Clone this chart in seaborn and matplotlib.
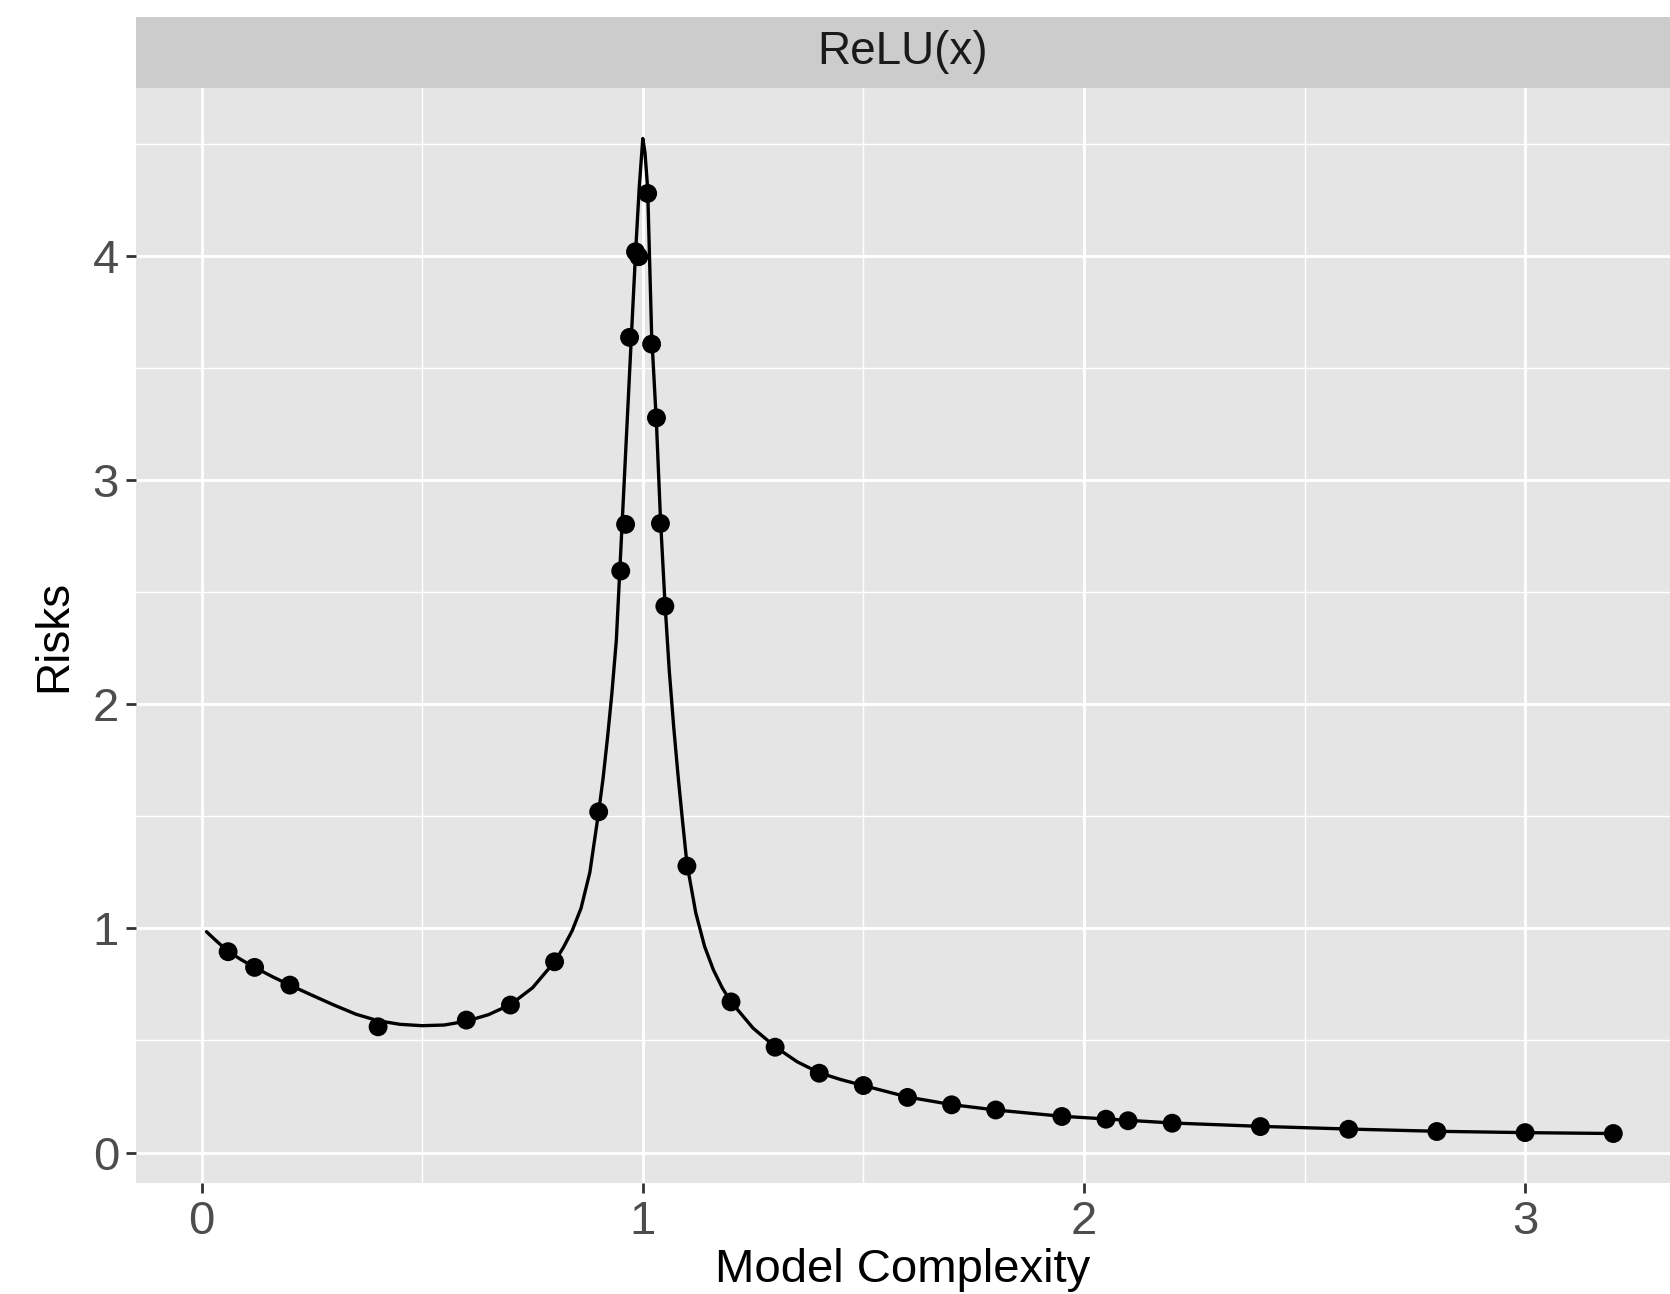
import matplotlib
matplotlib.use("Agg")
import matplotlib.pyplot as plt
import seaborn as sns
import pandas as pd

# ---- data ----
curve_x = [0.011, 0.03, 0.06, 0.09, 0.12, 0.16, 0.20, 0.25, 0.30, 0.35, 0.40, 0.45, 0.50,
           0.55, 0.60, 0.65, 0.70, 0.75, 0.80, 0.82, 0.84, 0.86, 0.88, 0.90, 0.91, 0.92,
           0.93, 0.94, 0.953, 0.965, 0.974, 0.9835, 0.992, 1.000, 1.005, 1.011, 1.020,
           1.031, 1.040, 1.050, 1.060, 1.070, 1.080, 1.090, 1.10, 1.12, 1.14, 1.16, 1.18,
           1.20, 1.25, 1.30, 1.35, 1.40, 1.45, 1.50, 1.60, 1.70, 1.80, 1.95, 2.10, 2.20,
           2.40, 2.60, 2.80, 3.00, 3.20]
curve_y = [0.985, 0.950, 0.897, 0.860, 0.826, 0.785, 0.747, 0.702, 0.658, 0.617, 0.588, 0.572, 0.566,
           0.569, 0.586, 0.615, 0.660, 0.735, 0.851, 0.915, 0.990, 1.09, 1.25, 1.52, 1.67, 1.85,
           2.05, 2.285, 2.80, 3.277, 3.636, 4.01, 4.307, 4.523, 4.46, 4.30, 3.65,
           3.25, 2.83, 2.46, 2.15, 1.90, 1.68, 1.48, 1.29, 1.07, 0.92, 0.815, 0.735,
           0.672, 0.555, 0.472, 0.405, 0.356, 0.325, 0.299, 0.248, 0.214, 0.190, 0.162, 0.144, 0.132,
           0.117, 0.105, 0.095, 0.089, 0.085]

point_x = [0.06, 0.12, 0.20, 0.40, 0.60, 0.70, 0.80, 0.90, 0.950, 0.961, 0.970, 0.9835,
           0.991, 1.011, 1.020, 1.031, 1.040, 1.050, 1.10, 1.20, 1.30, 1.40, 1.50, 1.60,
           1.70, 1.80, 1.95, 2.05, 2.10, 2.20, 2.40, 2.60, 2.80, 3.00, 3.20]
point_y = [0.896, 0.826, 0.747, 0.561, 0.591, 0.658, 0.851, 1.52, 2.594, 2.802, 3.636, 4.018,
           3.996, 4.278, 3.606, 3.277, 2.806, 2.437, 1.278, 0.672, 0.470, 0.354, 0.299, 0.246,
           0.213, 0.190, 0.161, 0.149, 0.142, 0.131, 0.116, 0.104, 0.094, 0.089, 0.085]

x_ticks = [0, 1, 2, 3]
y_ticks = [0, 1, 2, 3, 4]
x_minor = [0.5, 1.5, 2.5]
y_minor = [0.5, 1.5, 2.5, 3.5, 4.5]
facet_label = "ReLU(x)"
x_title = "Model Complexity"
y_title = "Risks"

curve_df = pd.DataFrame({"x": curve_x, "y": curve_y})
point_df = pd.DataFrame({"x": point_x, "y": point_y})

sns.set_theme(style="darkgrid")
plt.rcParams["font.family"] = ["Liberation Sans", "DejaVu Sans"]

W, H = 1670, 1294
fig = plt.figure(figsize=(W / 100, H / 100), dpi=100)
left = 135.7 / W
bottom = 1 - 1183.3 / H
top = 1 - 88.3 / H
strip_top = 1 - 16.7 / H
ax = fig.add_axes([left, bottom, 1 - left, top - bottom])
ax.set_facecolor("#E5E5E5")

sns.lineplot(data=curve_df, x="x", y="y", ax=ax, color="black", linewidth=2.4,
             estimator=None, sort=False, zorder=3)
sns.scatterplot(data=point_df, x="x", y="y", ax=ax, color="black", s=185,
                edgecolor="none", linewidth=0, zorder=4)

ax.set_xlim(-0.1495, 3.3285)
ax.set_ylim(-0.137, 4.747)
ax.set_xticks(x_ticks)
ax.set_yticks(y_ticks)
ax.set_xticks(x_minor, minor=True)
ax.set_yticks(y_minor, minor=True)
ax.grid(which="major", color="white", linewidth=2.1)
ax.grid(which="minor", color="white", linewidth=1.0)
for s in ax.spines.values():
    s.set_visible(False)
ax.tick_params(which="major", length=7, width=2.0, color="#333333",
               labelsize=34, labelcolor="#4D4D4D", pad=5, bottom=True, left=True)
ax.tick_params(which="minor", length=0)
ax.set_xlabel(x_title, fontsize=34, color="black", labelpad=3)
ax.set_ylabel(y_title, fontsize=33, color="black", labelpad=12)

sax = fig.add_axes([left, top, 1 - left, strip_top - top])
sax.set_facecolor("#CCCCCC")
sax.set_xticks([])
sax.set_yticks([])
for s in sax.spines.values():
    s.set_visible(False)
sax.text(0.5, 0.5, facet_label, ha="center", va="center", fontsize=33,
         color="#1A1A1A", transform=sax.transAxes)

fig.savefig("out.png", dpi=100)
